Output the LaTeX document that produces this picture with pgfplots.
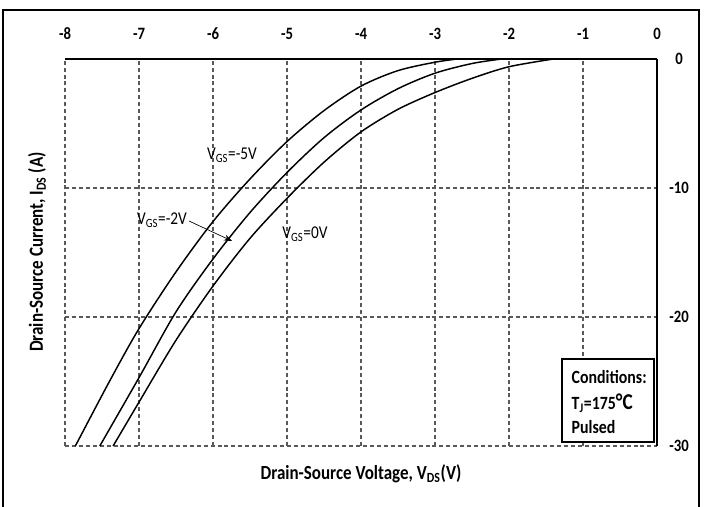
\documentclass[border=0pt]{standalone}
\usepackage{fontspec}
\setmainfont{Carlito}[FakeStretch=0.85]
\usepackage{pgfplots}
\pgfplotsset{compat=1.18}
\usetikzlibrary{arrows.meta}

\begin{document}
\begin{tikzpicture}
\useasboundingbox (0pt,0pt) rectangle (528pt,-380.25pt);
\begin{axis}[
  at={(48.75pt,-334.5pt)}, anchor=south west,
  scale only axis, width=444pt, height=290.25pt,
  xmin=-8, xmax=0, ymin=-30, ymax=0,
  xtick={-8,-7,...,0}, ytick={-30,-20,-10,0},
  xticklabel pos=upper, yticklabel pos=right,
  axis line style={draw=none},
  tick style={draw=none},
  grid=major,
  major grid style={dash pattern=on 3pt off 2.2pt, line width=0.8pt, black!65},
  /pgf/number format/assume math mode=true,
  ticklabel style={font=\fontsize{13}{15}\selectfont\bfseries},
  xticklabel style={anchor=center, yshift=18.75pt},
  yticklabel style={anchor=center, xshift=16.5pt},
  clip=false,
]
% V_GS = -5 V
\addplot[black, line width=1.1pt, smooth, tension=0.5] coordinates {
(-7.86,-30) (-7.4,-25) (-7.0,-20.9) (-6.5,-16.5) (-6.0,-12.6) (-5.5,-9.3)
(-5.0,-6.4) (-4.5,-4.0) (-4.0,-2.1) (-3.5,-0.9) (-3.0,-0.25) (-2.7,0)
};
% V_GS = -2 V
\addplot[black, line width=1.1pt, smooth, tension=0.5] coordinates {
(-7.53,-30) (-7.0,-24.7) (-6.5,-19.6) (-6.0,-15.5) (-5.5,-11.9) (-5.0,-8.8)
(-4.5,-6.1) (-4.0,-3.95) (-3.5,-2.3) (-3.0,-1.1) (-2.5,-0.35) (-2.1,0)
};
% V_GS = 0 V
\addplot[black, line width=1.1pt, smooth, tension=0.5] coordinates {
(-7.35,-30) (-7.0,-26.6) (-6.5,-21.8) (-6.0,-17.6) (-5.5,-13.9) (-5.0,-10.8)
(-4.5,-8.0) (-4.0,-5.65) (-3.5,-3.9) (-3.0,-2.6) (-2.5,-1.5) (-2.0,-0.6) (-1.4,0)
};
\draw[line width=2.2pt] (rel axis cs:0,1) -- (rel axis cs:1,1);
\draw[line width=1.5pt] (rel axis cs:1,1) -- (rel axis cs:1,0);
\end{axis}
\begin{scope}[x=0.75pt,y=-0.75pt]
\draw[line width=2.2pt] (3,520) -- (3,10) -- (699,10) -- (699,520);
\node[font=\fontsize{15}{17}\selectfont\bfseries] at (361,474) {Drain-Source Voltage, V\textsubscript{DS}(V)};
\node[rotate=90, font=\fontsize{15}{17}\selectfont\bfseries] at (37,252) {Drain-Source Current, I\textsubscript{DS} (A)};
\node[font=\fontsize{13.5}{15}\selectfont] at (232,155) {V\textsubscript{GS}=-5V};
\node[font=\fontsize{13.5}{15}\selectfont] at (162,220) {V\textsubscript{GS}=-2V};
\node[font=\fontsize{13.5}{15}\selectfont] at (305,234) {V\textsubscript{GS}=0V};
\draw[-{Stealth[length=6pt,width=4.5pt]}, line width=0.5pt] (189,221) -- (232,241);
\draw[line width=0.9pt, fill=white] (562,359) rectangle (654,442);
\node[anchor=west, font=\fontsize{14}{16}\selectfont\bfseries] at (567,377) {Conditions:};
\node[anchor=west, font=\fontsize{14}{16}\selectfont\bfseries] at (567,403) {T\textsubscript{J}=175{\fontsize{17}{17}\selectfont °C}};
\node[anchor=west, font=\fontsize{14}{16}\selectfont\bfseries] at (567,427) {Pulsed};
\end{scope}
\end{tikzpicture}
\end{document}
